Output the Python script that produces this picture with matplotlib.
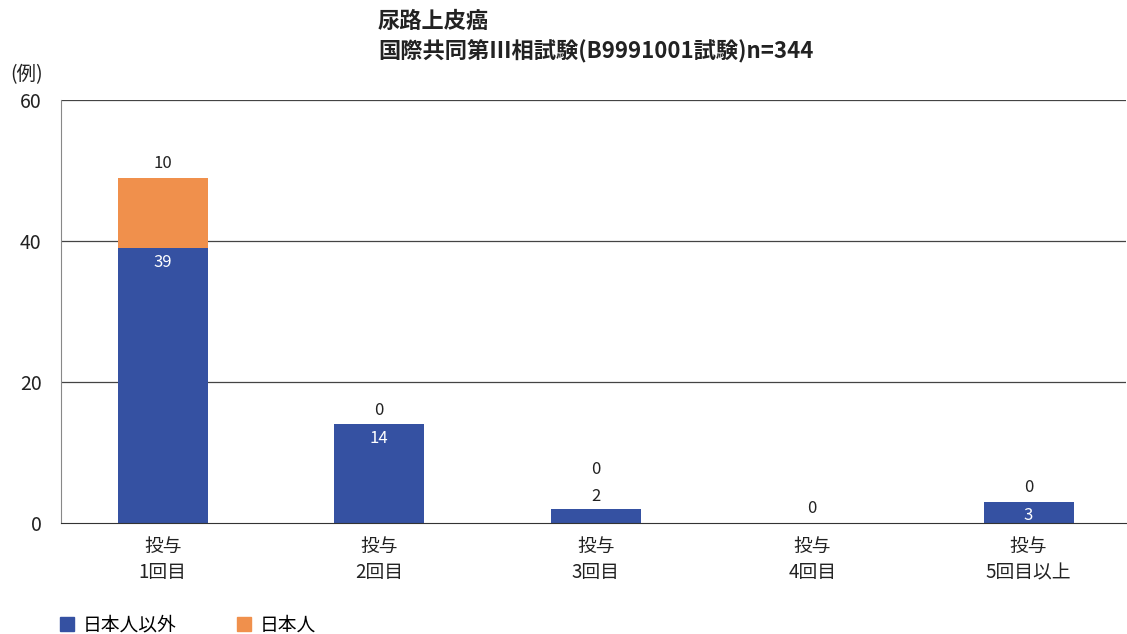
import matplotlib
matplotlib.use("Agg")
import matplotlib.pyplot as plt
from matplotlib.patches import Patch
import numpy as np

plt.rcParams['font.family'] = ['Noto Sans CJK JP', 'DejaVu Sans']

categories = ["投与\n1回目", "投与\n2回目", "投与\n3回目", "投与\n4回目", "投与\n5回目以上"]
non_japanese = [39, 14, 2, 0, 3]
japanese = [10, 0, 0, 0, 0]
series_names = ["日本人以外", "日本人"]
title_lines = ["尿路上皮癌", "国際共同第Ⅲ相試験(B9991001試験)n=344"]
yticks = [0, 20, 40, 60]

blue = "#3551a2"
orange = "#f0904c"

fig = plt.figure(figsize=(11.27, 6.34), dpi=100)
ax = fig.add_axes([61/1127, 1-523/634, 1065/1127, 423/634])

x = np.arange(len(categories))
w = 0.415
ax.bar(x, non_japanese, width=w, color=blue, zorder=3)
ax.bar(x, japanese, width=w, bottom=non_japanese, color=orange, zorder=3)

ax.set_xlim(-0.47, 4.45)
ax.set_ylim(0, 60)
ax.set_yticks(yticks)
ax.set_yticklabels([str(t) for t in yticks], fontsize=14, color="#222222")
ax.tick_params(axis='y', length=0, pad=14)
ax.set_xticks(x)
ax.set_xticklabels(categories, fontsize=13.5, color="#222222", linespacing=1.35)
ax.tick_params(axis='x', length=0, pad=9)

for s in ['top', 'right']:
    ax.spines[s].set_visible(False)
ax.spines['left'].set_color("#888888")
ax.spines['bottom'].set_color("#333333")
ax.spines['bottom'].set_zorder(4)
for t in yticks[1:]:
    ax.axhline(t, color="#444444", lw=0.9, zorder=1)

# value labels
fs = 12
for i, (a, b) in enumerate(zip(non_japanese, japanese)):
    total = a + b
    if a >= 3:
        ax.annotate(str(a), (x[i], a), xytext=(0, -4), textcoords="offset points",
                    ha="center", va="top", color="white", fontsize=fs, zorder=5)
        ax.annotate(str(b), (x[i], total), xytext=(0, 4), textcoords="offset points",
                    ha="center", va="bottom", color="#222222", fontsize=fs, zorder=5)
    elif a > 0:
        ax.annotate(str(a), (x[i], total), xytext=(0, 3), textcoords="offset points",
                    ha="center", va="bottom", color="#222222", fontsize=fs, zorder=5)
        ax.annotate(str(b), (x[i], total), xytext=(0, 22), textcoords="offset points",
                    ha="center", va="bottom", color="#222222", fontsize=fs, zorder=5)
    else:
        ax.annotate(str(b), (x[i], total), xytext=(0, 4), textcoords="offset points",
                    ha="center", va="bottom", color="#222222", fontsize=fs, zorder=5)

fig.text(378/1127, 1-21/634, title_lines[0], fontsize=16, fontweight='bold',
         color="#222222", va="center", ha="left")
fig.text(378/1127, 1-52/634, title_lines[1], fontsize=16, fontweight='bold',
         color="#222222", va="center", ha="left")
fig.text(10/1127, 1-75/634, "(例)", fontsize=14, color="#222222", va="center", ha="left")

handles = [Patch(color=blue), Patch(color=orange)]
fig.legend(handles, series_names, loc="center left", bbox_to_anchor=(52/1127, 1-625/634),
           ncol=2, frameon=False, fontsize=13.5, handlelength=0.75, handleheight=0.75,
           handletextpad=0.5, columnspacing=3.2, borderaxespad=0)

fig.savefig("out.png", dpi=100)
